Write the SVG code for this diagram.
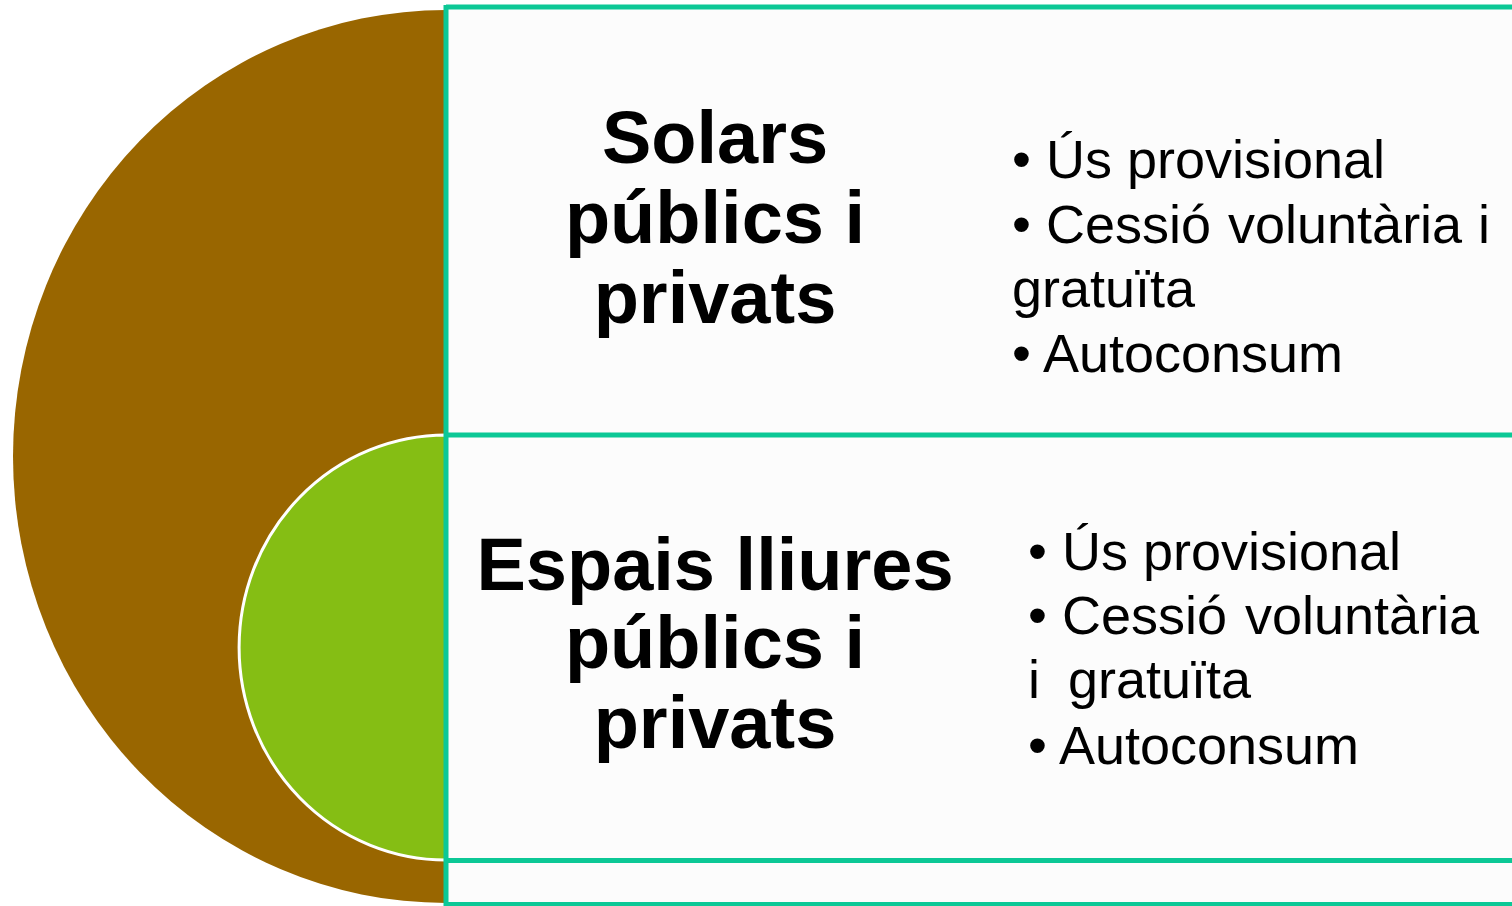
<svg xmlns="http://www.w3.org/2000/svg" width="1512" height="906" viewBox="0 0 1512 906">
<style>
.title{font-family:"Liberation Sans",Arial,sans-serif;font-weight:bold;font-size:74px;fill:#000;text-anchor:middle}
.item{font-family:"Liberation Sans",Arial,sans-serif;font-size:54px;fill:#000}
.frame{fill:none;stroke:#0CC896;stroke-width:5}
</style>
<rect width="1512" height="906" fill="#ffffff"/>
<g id="boxes">
<rect x="446" y="7" width="1080" height="428" fill="#FCFCFC"/>
<rect x="446" y="435" width="1080" height="425" fill="#FCFCFC"/>
<rect x="446" y="860" width="1080" height="60" fill="#FCFCFC"/>
</g>
<g id="shapes">
<path d="M446 10 A433 446.5 0 0 0 446 903 Z" fill="#996600"/>
<path d="M446 435 A207 212.5 0 0 0 446 860 Z" fill="#85BE14" stroke="#ffffff" stroke-width="3"/>
</g>
<g id="connectors">
<path class="frame" d="M446 7 H1520 M446 435 H1520 M446 860.5 H1520 M446 904.5 H1520 M446 5 V906"/>
</g>
<g id="node-solars">
<text class="title" x="715" y="163">Solars</text>
<text class="title" x="715" y="243">públics i</text>
<text class="title" x="715" y="323">privats</text>
</g>
<g id="node-solars-items">
<text class="item" x="1012" y="178">• Ús provisional</text>
<text class="item" x="1012" y="243">• Cessió<tspan x="1228">voluntària</tspan><tspan x="1478">i</tspan></text>
<text class="item" x="1012" y="307">gratuïta</text>
<text class="item" x="1012" y="372">• Autoconsum</text>
</g>
<g id="node-espais">
<text class="title" x="715" y="590">Espais lliures</text>
<text class="title" x="715" y="668">públics i</text>
<text class="title" x="715" y="748">privats</text>
</g>
<g id="node-espais-items">
<text class="item" x="1028" y="570">• Ús provisional</text>
<text class="item" x="1028" y="634">• Cessió<tspan x="1245">voluntària</tspan></text>
<text class="item" x="1028" y="698">i<tspan x="1068">gratuïta</tspan></text>
<text class="item" x="1028" y="764">• Autoconsum</text>
</g>
</svg>
